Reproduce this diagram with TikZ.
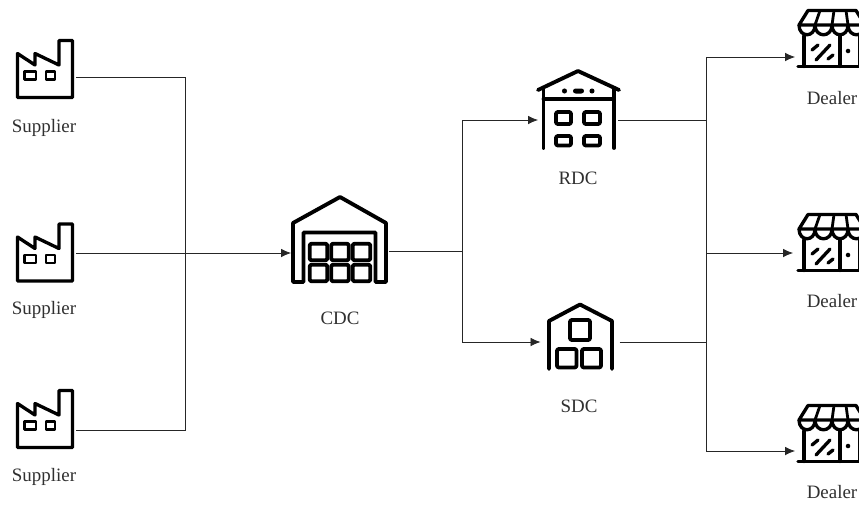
\documentclass[tikz,border=0pt]{standalone}
\usepackage{fontspec}
\setmainfont{Liberation Serif}
\usetikzlibrary{arrows.meta}
\definecolor{lbl}{HTML}{303030}
\tikzset{
  x=0.75pt,y=-0.75pt,
  iconstroke/.style={draw=black,line width=2.5pt,line join=round,line cap=round,fill=none},
  heavystroke/.style={draw=black,line width=2.9pt,line join=round,line cap=round,fill=none},
  thinstroke/.style={draw=black,line width=2.1pt,line join=round,line cap=round,fill=none},
  anchorbox/.style={inner sep=0pt,outer sep=0pt,minimum height=40pt},
  wire/.style={draw=black!85,line width=0.6pt},
  arrowwire/.style={wire,-{Latex[length=7.5pt,width=6.5pt]}},
  lab/.style={font=\fontsize{14.2pt}{16pt}\selectfont,text=lbl,inner sep=0pt},
  factory/.pic={
    \draw[iconstroke] (17.5,53.5)--(35,65)--(35,53.5)--(59,65)--(59,40.5)--(72.5,40.5)--(72.5,97.5)--(17.5,97.5)--cycle;
    \draw[thinstroke] (24.5,71.5) rectangle (36,79.5);
    \draw[thinstroke] (46,71.5) rectangle (55,79.5);
  },
  dealershop/.pic={
    \draw[iconstroke] (799,25)--(808,10.5)--(856,10.5)--(865,25)--cycle;
    \draw[thinstroke] (815,25)--(820,10.5) (832,25)--(834,10.5) (848,25)--(846,10.5);
    \draw[iconstroke] (799,25) .. controls (799,38) and (815,38) .. (815,25)
       .. controls (815,38) and (832,38) .. (832,25)
       .. controls (832,38) and (848,38) .. (848,25)
       .. controls (848,38) and (865,38) .. (865,25);
    \draw[iconstroke] (804,36)--(804,66.5) (798,66.5)--(866,66.5) (840,36)--(840,66.5) (859.5,36)--(859.5,66.5);
    \draw[iconstroke] (812,50)--(818,45) (816,60)--(830,45) (828,59)--(833,55);
    \fill[black] (848,51) circle (1.7pt);
  },
}
\begin{document}
\begin{tikzpicture}
\clip (0,0) rectangle (859,504);
\fill[white] (0,0) rectangle (859,504);
% anchor nodes (invisible) for icons
\node[anchorbox,minimum width=45pt] (s1) at (46,77) {};
\node[anchorbox,minimum width=45pt] (s2) at (46,253) {};
\node[anchorbox,minimum width=45pt] (s3) at (46,430) {};
\node[anchorbox,minimum width=73.5pt] (cdc) at (340,251) {};
\node[anchorbox,minimum width=60pt] (rdc) at (578,120) {};
\node[anchorbox,minimum width=59.25pt] (sdc) at (580,342) {};
\node[anchorbox,minimum width=30pt] (d1) at (815,57) {};
\node[anchorbox,minimum width=33pt] (d2) at (815,253) {};
\node[anchorbox,minimum width=30pt] (d3) at (815,451) {};
\coordinate (b1) at (185,77);
\coordinate (b3) at (185,430);
\coordinate (m) at (462,251);
\coordinate (m1) at (462,120);
\coordinate (m2) at (462,342);
\coordinate (j1) at (706,57);
\coordinate (jr) at (706,120);
\coordinate (j2) at (706,253);
\coordinate (js) at (706,342);
\coordinate (j3) at (706,451);
% connectors
\draw[wire] (s1.east)--(b1)--(b3)--(s3.east);
\draw[arrowwire] (s2.east)--(cdc.west|-s2.east);
\draw[wire] (cdc.east)--(m);
\draw[arrowwire] (m)--(m1)--(rdc.west);
\draw[arrowwire] (m)--(m2)--(sdc.west);
\draw[wire] (rdc.east)--(jr);
\draw[wire] (sdc.east)--(js);
\draw[arrowwire] (j2)--(j1)--(d1.west);
\draw[arrowwire] (j2)--(d2.west);
\draw[arrowwire] (j2)--(j3)--(d3.west);
% factories
\pic at (0,0) {factory};
\pic at (0,183.5) {factory};
\pic at (0,350) {factory};
% CDC
\draw[heavystroke] (303.5,282)--(303.5,232.5)--(375.5,232.5)--(375.5,282)--(386,282)--(386,223)--(340,197)--(293,223)--(293,282)--cycle;
\foreach \xa/\xb in {309.7/327.3,331.2/348.8,352.7/370.3}{
  \foreach \ya/\yb in {243.7/260.3,264.7/281.3}{
    \draw[heavystroke,rounded corners=1.5pt] (\xa,\ya) rectangle (\xb,\yb);
  }
}
% RDC
\draw[heavystroke] (538,90)--(578,71)--(619,90);
\draw[heavystroke] (543.5,88)--(543.5,148) (614,88)--(614,148) (543.5,99)--(614,99);
\fill[black] (564.5,91) circle (1.9pt) (592,91) circle (1.9pt);
\fill[black,rounded corners=1.9pt] (573,88.5) rectangle (584,93.5);
\draw[heavystroke,rounded corners=1.5pt] (556,112) rectangle (571,124);
\draw[heavystroke,rounded corners=1.5pt] (584,112) rectangle (600,124);
\draw[heavystroke,rounded corners=1.5pt] (556,136) rectangle (571,145.5);
\draw[heavystroke,rounded corners=1.5pt] (584,136) rectangle (600,145.5);
% SDC
\draw[heavystroke] (549,369)--(549,321)--(580,304.5)--(612,321)--(612,369);
\draw[heavystroke,rounded corners=1.5pt] (570,320) rectangle (590,340);
\draw[heavystroke,rounded corners=1.5pt] (557,349) rectangle (576.5,367.5);
\draw[heavystroke,rounded corners=1.5pt] (582,349) rectangle (601,367.5);
% dealers
\pic at (0,0) {dealershop};
\pic at (0,204) {dealershop};
\pic at (0,395) {dealershop};
% labels
\node[lab] (l1) at (44,128) {Supplier};
\node[lab] (l2) at (44,310) {Supplier};
\node[lab] (l3) at (44,477) {Supplier};
\node[lab] (l4) at (340,318) {CDC};
\node[lab] (l5) at (578,178) {RDC};
\node[lab] (l6) at (579,406) {SDC};
\node[lab] (l7) at (832,98) {Dealer};
\node[lab] (l8) at (832,301) {Dealer};
\node[lab] (l9) at (832,492) {Dealer};
\end{tikzpicture}
\end{document}
